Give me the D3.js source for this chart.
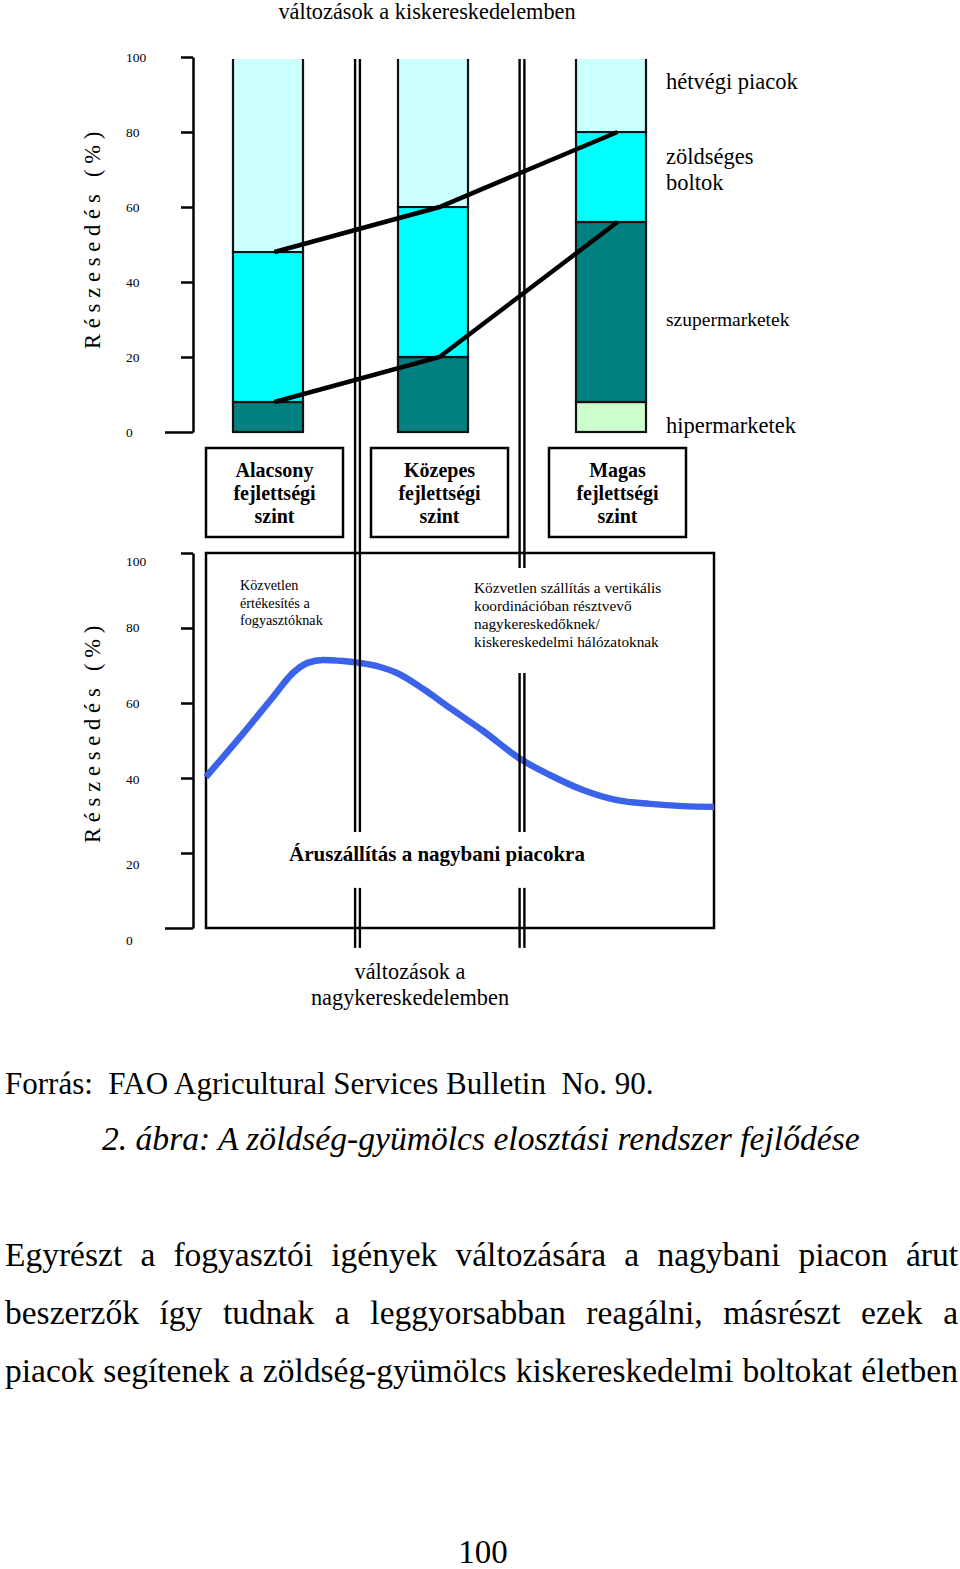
<!DOCTYPE html>
<html><head><meta charset="utf-8">
<script src="https://cdn.jsdelivr.net/npm/d3@7"></script>
<style>html,body{margin:0;padding:0;background:#fff;}svg{display:block;}</style>
</head><body>
<script>
// ---------- DATA ----------
const levels = ["Alacsony", "Közepes", "Magas"];
const levelLabels = [["Alacsony","fejlettségi","szint"],["Közepes","fejlettségi","szint"],["Magas","fejlettségi","szint"]];
const seriesKeys = ["hipermarketek", "szupermarketek", "zöldséges boltok", "hétvégi piacok"];
const hipermarketek = [0, 0, 8];
const szupermarketek = [8, 20, 48];
const zoldseges = [40, 40, 24];
const hetvegi = [52, 40, 20];
const yTicks = [0, 20, 40, 60, 80, 100];
// wholesale share curve (x: development 0-100, y: share %)
const curveX = [0, 6.7, 13.2, 17.1, 20, 23, 27, 30.3, 34.3, 37.6, 42.7, 48, 54.5, 62.2, 67.7, 74.2, 80.9, 87.4, 93.9, 100];
const curveY = [40.3, 50.9, 61.6, 68.0, 70.7, 71.5, 71.2, 70.7, 69.6, 68.0, 63.8, 58.7, 52.6, 44.8, 40.8, 36.8, 34.1, 33.1, 32.5, 32.3];
const paragraph = [
  "Egyrészt a fogyasztói igények változására a nagybani piacon árut",
  "beszerzők így tudnak a leggyorsabban reagálni, másrészt ezek a",
  "piacok segítenek a zöldség-gyümölcs kiskereskedelmi boltokat életben"
];

// ---------- SETUP ----------
const serif = "'Liberation Serif','Times New Roman',serif";
const colors = d3.scaleOrdinal().domain(seriesKeys).range(["#ccffcc", "#008080", "#00ffff", "#ccffff"]);
const svg = d3.select("body").append("svg").attr("width", 960).attr("height", 1569)
  .style("font-family", serif);

const yTop = d3.scaleLinear().domain([0, 100]).range([432, 57]);
const yBot = d3.scaleLinear().domain([0, 100]).range([928, 553]);
const yBotLabel = d3.scaleLinear().domain([0, 20, 40, 80, 100]).range([940, 864, 779, 627, 561]);
const boxX = d3.scaleOrdinal().domain(levels).range([206, 371, 549]);
const boxW = 137, barOff = 27, barW = 70;
const devX = d3.scaleLinear().domain([0, 100]).range([206, 714]);

// ---------- AXES ----------
function drawAxis(y, labelY) {
  const g = svg.append("g").attr("transform", "translate(193,0)")
    .call(d3.axisLeft(y).tickValues(yTicks).tickSize(12).tickSizeOuter(0).tickFormat(""));
  g.select(".domain").attr("stroke", "#000").attr("stroke-width", 2.5);
  g.selectAll(".tick line").attr("stroke", "#000").attr("stroke-width", 2.5)
    .attr("x2", d => d === 0 ? -28 : -12);
  svg.append("g").selectAll("text").data(yTicks).join("text")
    .attr("x", 126).attr("y", d => labelY(d)).attr("dy", "0.35em")
    .attr("font-size", 13.5).text(d => d);
}
drawAxis(yTop, yTop);
drawAxis(yBot, yBotLabel);

// y titles
[[yTop, 50, -7], [yBot, 50, -9]].forEach(([y, v, off]) => {
  svg.append("text")
    .attr("transform", `translate(100,${y(v) + off}) rotate(-90)`)
    .attr("text-anchor", "middle").attr("font-size", 22.5).attr("letter-spacing", 5.8)
    .text("Részesedés (%)");
});

// ---------- TOP: STACKED BARS ----------
const rows = levels.map((l, i) => ({
  level: l,
  "hipermarketek": hipermarketek[i],
  "szupermarketek": szupermarketek[i],
  "zöldséges boltok": zoldseges[i],
  "hétvégi piacok": hetvegi[i]
}));
const stacked = d3.stack().keys(seriesKeys)(rows);
const gBars = svg.append("g");
const last = seriesKeys.length - 1;
stacked.forEach((s, si) => {
  gBars.selectAll(null).data(s.filter(d => d[1] - d[0] > 0)).join("rect")
    .attr("x", d => boxX(d.data.level) + barOff)
    .attr("y", d => yTop(d[1]) + (si === last ? 2 : 0))
    .attr("width", barW)
    .attr("height", d => yTop(d[0]) - yTop(d[1]) - (si === last ? 2 : 0))
    .attr("fill", colors(s.key))
    .attr("stroke", "#111").attr("stroke-width", 2.2)
    .attr("stroke-dasharray", d => {
      if (si !== last) return null;
      const h = yTop(d[0]) - yTop(d[1]) - 2;
      return `0 ${barW} ${h * 2 + barW}`;
    });
});

// connecting lines
const cx = l => boxX(l) + boxW / 2;
const line = d3.line().x(d => cx(d.data.level)).y(d => yTop(d[1]));
[stacked[1], stacked[2]].forEach(s => {
  svg.append("path").datum(s).attr("d", line)
    .attr("fill", "none").attr("stroke", "#000").attr("stroke-width", 4.5);
});

// series labels
const legend = [
  { lines: ["hétvégi piacok"], v: 93.5, size: 22.5 },
  { lines: ["zöldséges", "boltok"], v: 70, size: 22.5 },
  { lines: ["szupermarketek"], v: 30, size: 19.5 },
  { lines: ["hipermarketek"], v: 1.6, size: 22.5 }
];
legend.forEach(L => {
  const n = L.lines.length, lh = 26;
  L.lines.forEach((t, j) => {
    svg.append("text").attr("x", 666)
      .attr("y", yTop(L.v) + (j - (n - 1) / 2) * lh).attr("dy", "0.33em")
      .attr("font-size", L.size).text(t);
  });
});

// title
svg.append("text").attr("x", 427).attr("y", 19).attr("text-anchor", "middle")
  .attr("font-size", 22.3).text("változások a kiskereskedelemben");

// ---------- LEVEL BOXES ----------
levels.forEach((l, i) => {
  svg.append("rect").attr("x", boxX(l)).attr("y", 448).attr("width", boxW).attr("height", 89)
    .attr("fill", "none").attr("stroke", "#000").attr("stroke-width", 2.5);
  levelLabels[i].forEach((t, j) => {
    svg.append("text").attr("x", cx(l)).attr("y", 477 + j * 23).attr("text-anchor", "middle")
      .attr("font-size", 20).attr("font-weight", "bold").text(t);
  });
});

// ---------- BOTTOM CHART ----------
svg.append("rect").attr("x", devX(0)).attr("y", yBot(100))
  .attr("width", devX(100) - devX(0)).attr("height", yBot(0) - yBot(100))
  .attr("fill", "none").attr("stroke", "#000").attr("stroke-width", 2.5);

const curvePts = curveX.map((x, i) => [x, curveY[i]]);
svg.append("path").datum(curvePts)
  .attr("d", d3.line().x(d => devX(d[0])).y(d => yBot(d[1])).curve(d3.curveMonotoneX))
  .attr("fill", "none").attr("stroke", "#3a63ea").attr("stroke-width", 6.5);

// separators (double lines)
const sepX = [357.5, 522];
const sepSegs = [
  [[yTop(99.5), yBot(25.6)], [yBot(10.7), yBot(-5.3)]],
  [[yTop(99.5), yBot(96)], [yBot(68), yBot(25.6)], [yBot(10.7), yBot(-5.3)]]
];
sepX.forEach((x, i) => {
  sepSegs[i].forEach(([y1, y2]) => {
    [-2.4, 2.4].forEach(o => {
      svg.append("line").attr("x1", x + o).attr("x2", x + o).attr("y1", y1).attr("y2", y2)
        .attr("stroke", "#000").attr("stroke-width", 2.4);
    });
  });
});

// annotations
const ann1 = ["Közvetlen", "értékesítés a", "fogyasztóknak"];
ann1.forEach((t, j) => svg.append("text").attr("x", 240).attr("y", 590 + j * 17.5)
  .attr("font-size", 14.2).text(t));
const ann2 = ["Közvetlen szállítás a vertikális", "koordinációban résztvevő", "nagykereskedőknek/", "kiskereskedelmi hálózatoknak"];
ann2.forEach((t, j) => svg.append("text").attr("x", 474).attr("y", 593 + j * 18)
  .attr("font-size", 15.3).text(t));
svg.append("text").attr("x", 437).attr("y", 861).attr("text-anchor", "middle")
  .attr("font-size", 21).attr("font-weight", "bold").text("Áruszállítás a nagybani piacokra");
["változások a", "nagykereskedelemben"].forEach((t, j) =>
  svg.append("text").attr("x", 410).attr("y", 979 + j * 26).attr("text-anchor", "middle")
    .attr("font-size", 22.3).text(t));

// ---------- PAGE TEXT ----------
svg.append("text").attr("x", 5).attr("y", 1094).attr("font-size", 31)
  .attr("xml:space", "preserve").style("white-space", "pre")
  .text("Forrás:  FAO Agricultural Services Bulletin  No. 90.");
svg.append("text").attr("x", 102).attr("y", 1150).attr("font-size", 33.6).attr("font-style", "italic")
  .text("2. ábra: A zöldség-gyümölcs elosztási rendszer fejlődése");

// justified paragraph
paragraph.forEach((ln, i) => {
  const words = ln.split(" ");
  const g = svg.append("g");
  const ts = words.map(w => g.append("text").attr("y", 1266 + i * 58).attr("font-size", 33.5).text(w));
  const widths = ts.map(t => t.node().getComputedTextLength());
  const total = d3.sum(widths);
  const gap = (958 - 5 - total) / (words.length - 1);
  let x = 5;
  ts.forEach((t, k) => { t.attr("x", x); x += widths[k] + gap; });
});

svg.append("text").attr("x", 483).attr("y", 1563).attr("text-anchor", "middle")
  .attr("font-size", 33).text("100");
</script>
</body></html>
